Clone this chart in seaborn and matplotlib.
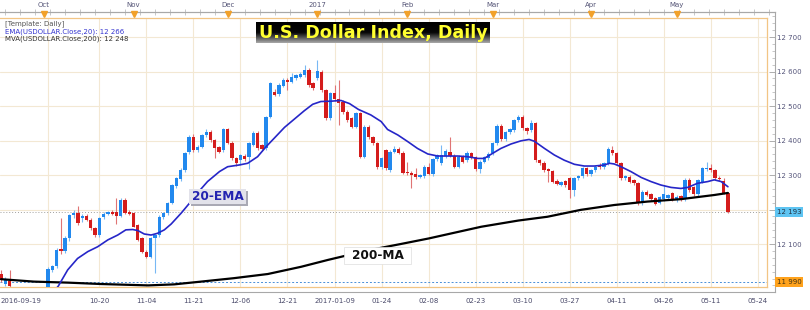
import numpy as np
import pandas as pd
import matplotlib
matplotlib.use("Agg")
import matplotlib.pyplot as plt
import matplotlib.transforms as mtrans
from matplotlib.colors import LinearSegmentedColormap
from matplotlib.patches import Rectangle
import seaborn as sns

# ---------------- data ----------------
opens = [12012, 11985, 11993, 11972, 11950, 11940, 11948, 11955, 11945, 11950,
         11960, 11962, 12025, 12036, 12085, 12079, 12116, 12183, 12189, 12175,
         12180, 12170, 12145, 12126, 12178, 12188, 12194, 12192, 12182, 12228,
         12194, 12189, 12155, 12116, 12078, 12063, 12116, 12126, 12179, 12189,
         12220, 12268, 12288, 12315, 12368, 12409, 12372, 12382, 12416, 12426,
         12401, 12380, 12372, 12432, 12394, 12348, 12343, 12356, 12351, 12387,
         12423, 12387, 12377, 12469, 12542, 12535, 12558, 12575, 12571, 12580,
         12585, 12590, 12604, 12566, 12580, 12600, 12546, 12464, 12537, 12519,
         12512, 12484, 12464, 12440, 12479, 12353, 12440, 12409, 12392, 12322,
         12372, 12315, 12368, 12374, 12365, 12310, 12307, 12303, 12295, 12297,
         12324, 12303, 12345, 12334, 12355, 12368, 12355, 12324, 12353, 12343,
         12363, 12351, 12317, 12339, 12349, 12363, 12392, 12443, 12403, 12424,
         12430, 12459, 12469, 12435, 12430, 12450, 12343, 12336, 12316, 12312,
         12284, 12272, 12282, 12290, 12257, 12290, 12296, 12319, 12303, 12314,
         12330, 12322, 12334, 12372, 12363, 12334, 12290, 12295, 12285, 12276,
         12222, 12252, 12244, 12232, 12220, 12229, 12234, 12247, 12227, 12238,
         12229, 12285, 12264, 12245, 12281, 12316, 12320, 12314, 12290, 12284,
         12247]
highs = [12025, 12003, 12025, 11974, 11960, 11955, 11962, 11965, 11958, 11968,
         11970, 12032, 12040, 12088, 12174, 12122, 12188, 12200, 12210, 12186,
         12186, 12174, 12150, 12178, 12192, 12197, 12200, 12232, 12234, 12232,
         12198, 12192, 12158, 12120, 12082, 12120, 12130, 12183, 12192, 12222,
         12275, 12294, 12320, 12368, 12415, 12418, 12388, 12420, 12432, 12430,
         12405, 12384, 12437, 12436, 12398, 12352, 12362, 12360, 12396, 12428,
         12428, 12390, 12472, 12570, 12548, 12566, 12580, 12580, 12595, 12594,
         12600, 12620, 12610, 12570, 12633, 12605, 12550, 12542, 12560, 12575,
         12516, 12488, 12468, 12484, 12484, 12445, 12445, 12414, 12396, 12352,
         12376, 12372, 12385, 12380, 12369, 12339, 12312, 12320, 12303, 12328,
         12336, 12350, 12362, 12387, 12374, 12411, 12360, 12357, 12358, 12370,
         12368, 12355, 12344, 12356, 12366, 12396, 12448, 12448, 12428, 12436,
         12462, 12474, 12474, 12440, 12458, 12455, 12346, 12340, 12320, 12315,
         12288, 12284, 12286, 12294, 12294, 12300, 12324, 12324, 12318, 12328,
         12334, 12338, 12380, 12384, 12367, 12338, 12300, 12300, 12289, 12280,
         12256, 12256, 12248, 12236, 12240, 12270, 12246, 12252, 12241, 12242,
         12290, 12290, 12268, 12289, 12324, 12338, 12333, 12318, 12296, 12290,
         12252]
lows = [11990, 11978, 11970, 11945, 11930, 11925, 11935, 11940, 11930, 11940,
        11945, 11955, 12018, 12030, 12072, 12075, 12110, 12176, 12155, 12165,
        12166, 12140, 12120, 12120, 12172, 12184, 12184, 12158, 12178, 12188,
        12183, 12148, 12108, 12074, 12058, 12058, 12015, 12120, 12172, 12185,
        12215, 12262, 12284, 12310, 12362, 12368, 12366, 12378, 12411, 12396,
        12350, 12364, 12366, 12390, 12344, 12326, 12328, 12340, 12318, 12383,
        12372, 12370, 12372, 12465, 12528, 12530, 12554, 12545, 12566, 12576,
        12580, 12585, 12556, 12546, 12575, 12541, 12459, 12460, 12514, 12445,
        12478, 12454, 12435, 12436, 12348, 12348, 12404, 12387, 12317, 12318,
        12314, 12310, 12364, 12360, 12302, 12300, 12261, 12288, 12290, 12292,
        12299, 12298, 12340, 12330, 12350, 12352, 12320, 12320, 12334, 12338,
        12346, 12312, 12305, 12334, 12344, 12358, 12388, 12398, 12398, 12420,
        12426, 12455, 12430, 12420, 12426, 12338, 12330, 12308, 12280, 12276,
        12270, 12268, 12266, 12232, 12240, 12285, 12290, 12298, 12298, 12310,
        12318, 12318, 12330, 12358, 12330, 12286, 12286, 12277, 12270, 12213,
        12214, 12238, 12224, 12212, 12215, 12225, 12230, 12225, 12222, 12225,
        12225, 12252, 12240, 12240, 12276, 12312, 12308, 12286, 12282, 12244,
        12190]
closes = [11997, 11998, 11978, 11950, 11940, 11948, 11955, 11945, 11950, 11960,
          11962, 12028, 12036, 12083, 12079, 12116, 12184, 12189, 12160, 12181,
          12170, 12145, 12126, 12174, 12188, 12194, 12188, 12180, 12228, 12191,
          12187, 12150, 12112, 12078, 12063, 12116, 12126, 12179, 12189, 12218,
          12270, 12290, 12315, 12363, 12411, 12372, 12382, 12416, 12426, 12401,
          12377, 12368, 12432, 12394, 12348, 12336, 12358, 12346, 12392, 12423,
          12377, 12374, 12469, 12566, 12532, 12561, 12575, 12571, 12585, 12590,
          12593, 12604, 12561, 12551, 12600, 12546, 12464, 12537, 12519, 12508,
          12484, 12459, 12440, 12479, 12353, 12440, 12409, 12392, 12322, 12348,
          12319, 12368, 12374, 12365, 12307, 12305, 12300, 12293, 12300, 12324,
          12303, 12345, 12358, 12358, 12370, 12355, 12324, 12353, 12339, 12365,
          12351, 12317, 12339, 12351, 12361, 12392, 12443, 12403, 12424, 12432,
          12459, 12469, 12435, 12428, 12450, 12343, 12336, 12314, 12312, 12281,
          12274, 12280, 12270, 12257, 12290, 12296, 12319, 12303, 12314, 12324,
          12322, 12334, 12374, 12363, 12334, 12290, 12297, 12281, 12276, 12218,
          12252, 12242, 12229, 12216, 12237, 12245, 12241, 12229, 12237, 12230,
          12285, 12257, 12245, 12285, 12319, 12320, 12315, 12290, 12287, 12247,
          12194]

ema_idx = [12.2, 13.4, 15.6, 17.9, 20.3, 22.6, 25.0, 27.3, 29.2, 30.8, 32.0, 33.5,
           35.1, 36.6, 38.2, 39.8, 42.1, 44.4, 46.6, 48.3, 51.1, 53.0, 55.7, 57.7,
           60.0, 62.0, 64.0, 66.3, 68.6, 70.9, 72.9, 74.8, 77.2, 79.5, 81.5, 83.6,
           86.5, 88.9, 90.4, 92.8, 95.1, 97.4, 99.8, 102.1, 104.5, 106.8, 109.1,
           111.5, 113.0, 114.6, 116.9, 119.3, 121.6, 123.5, 124.7, 127.1, 129.4,
           131.7, 134.1, 136.4, 138.8, 141.1, 142.3, 143.4, 145.0, 147.3, 149.7,
           152.0, 154.3, 156.7, 159.0, 160.6, 162.9, 165.3, 166.8, 168.4, 170.0]
ema_val = [11960, 11978, 12025, 12058, 12078, 12092, 12112, 12126, 12141, 12142,
           12139, 12129, 12126, 12131, 12141, 12158, 12189, 12223, 12257, 12281,
           12310, 12324, 12329, 12334, 12353, 12382, 12408, 12438, 12462, 12486,
           12505, 12513, 12514, 12516, 12507, 12490, 12474, 12455, 12432, 12416,
           12397, 12377, 12361, 12355, 12355, 12355, 12353, 12348, 12348, 12360,
           12377, 12390, 12399, 12403, 12398, 12377, 12358, 12343, 12331, 12326,
           12326, 12329, 12334, 12332, 12324, 12310, 12293, 12281, 12271, 12264,
           12261, 12264, 12276, 12281, 12286, 12281, 12266]

ma_idx = [0, 7.7, 15.7, 23.4, 34.4, 40.5, 46.8, 54.5, 62.4, 70.2, 76.5, 86.0,
          93.5, 100.0, 112.3, 121.0, 127.8, 135.6, 143.4, 151.2, 159.0, 166.8, 170.0]
ma_val = [11998, 11991, 11988, 11984, 11980, 11983, 11991, 12001, 12013, 12034,
          12054, 12082, 12100, 12116, 12150, 12168, 12179, 12199, 12213, 12223,
          12230, 12242, 12248]

date_pos = [0, 23, 34, 45, 56, 67, 78, 89, 100, 111, 122, 133, 144, 155, 166, 177]
date_labels = ['2016-09-19', '10-20', '11-04', '11-21', '12-06', '12-21',
               '2017-01-09', '01-24', '02-08', '02-23', '03-10', '03-27',
               '04-11', '04-26', '05-11', '05-24']
grid_pos = [11, 23, 34, 45, 56, 67, 78, 89, 100, 111, 122, 133, 144, 155, 166, 177]
month_pos = [10, 31, 53, 74, 95, 115, 138, 158]
month_labels = ['Oct', 'Nov', 'Dec', '2017', 'Feb', 'Mar', 'Apr', 'May']
price_ticks = [12100, 12200, 12300, 12400, 12500, 12600, 12700]
last_price = 12193
marker_price = 11990

# ---------------- style ----------------
sns.set_theme(style="white")
plt.rcParams['font.family'] = ['DejaVu Sans']

UP, UPW = '#2289ee', '#78b8f4'
DN, DNW = '#d41c1c', '#e07474'

W, H = 810, 310
fig = plt.figure(figsize=(W / 100, H / 100), dpi=100)
fig.patch.set_facecolor('white')

PX, X0, PY = 4.276, 1.0, 0.345


def xl(pl, pr):
    return ((pl - X0) / PX, (pr - X0) / PX)


def yl(yt, yb):
    return (12700 - (yb - 37) / PY, 12700 + (37 - yt) / PY)


# outer axes (scales)
ax2 = fig.add_axes([0, (H - 292) / H, 775 / W, 280 / H])
ax2.set_xlim(*xl(0, 775))
ax2.set_ylim(*yl(12, 292))
ax2.set_facecolor('white')
for s in ['top', 'bottom', 'right']:
    ax2.spines[s].set_color('#a8a8a8')
    ax2.spines[s].set_linewidth(0.8)
ax2.spines['left'].set_visible(False)

ax2.yaxis.tick_right()
ax2.set_yticks(price_ticks)
ax2.set_yticklabels(['' if p == 12200 else f"{p // 1000} {p % 1000:03d}" for p in price_ticks])
ax2.set_yticks(np.arange(11980, 12761, 20), minor=True)
ax2.tick_params(axis='y', which='major', direction='in', length=4, width=0.6,
                color='#a0a0a0', labelsize=5, labelcolor='#55557a', pad=1.5,
                left=False, right=True)
ax2.tick_params(axis='y', which='minor', direction='in', length=2, width=0.5,
                color='#b0b0b0', left=False, right=True)

ax2.set_xticks(date_pos)
ax2.set_xticklabels(date_labels)
ax2.get_xticklabels()[0].set_horizontalalignment('left')
ax2.set_xticks(np.arange(0, 182, 1), minor=True)
ax2.tick_params(axis='x', which='major', direction='in', length=5, width=0.6,
                color='#a0a0a0', labelsize=5, labelcolor='#4a4a6a', pad=4)
ax2.tick_params(axis='x', which='minor', direction='in', length=2.5, width=0.5,
                color='#b0b0b0')

sec = ax2.secondary_xaxis('top')
sec.set_xticks(np.arange(1, 182, 3.5))
sec.set_xticklabels([])
sec.tick_params(direction='inout', length=4, width=0.5, color='#b0b0b0')
sec.spines['top'].set_color('#a8a8a8')
sec.spines['top'].set_linewidth(0.8)

btr = mtrans.blended_transform_factory(ax2.transData, ax2.transAxes)
ax2.plot(month_pos, [1 - 1.8 / 280] * len(month_pos), ls='none', marker='v', ms=4.5,
         color='#f2a12a', transform=btr, clip_on=False, zorder=6)
for mp, ml in zip(month_pos, month_labels):
    ax2.text(mp, 1.025, ml, transform=btr, ha='center', va='center', fontsize=5,
             color='#555577')

# price markers on the right axis
rtr = mtrans.blended_transform_factory(ax2.transAxes, ax2.transData)
ax2.text(1 + 2 / 775, last_price, '12 193', transform=rtr,
         ha='left', va='center', fontsize=5, color='#223344',
         bbox=dict(boxstyle='square,pad=0.25', fc='#5ec4f2', ec='none'), clip_on=False)
ax2.text(1 + 2 / 775, marker_price, '11 990', transform=rtr,
         ha='left', va='center', fontsize=5, color='#443311',
         bbox=dict(boxstyle='square,pad=0.25', fc='#ffa21c', ec='none'), clip_on=False)

# main plotting area (orange frame)
ax = fig.add_axes([0, (H - 287) / H, 767 / W, 269 / H])
ax.set_xlim(*xl(0, 767))
ax.set_ylim(*yl(18, 287))
ax.set_facecolor('none')
for s in ['top', 'bottom', 'right']:
    ax.spines[s].set_color('#f2c585')
    ax.spines[s].set_linewidth(0.9)
ax.spines['left'].set_visible(False)

for g in grid_pos:
    ax.axvline(g, color='#f3e8d3', lw=0.8, zorder=0)
for p in price_ticks:
    ax.axhline(p, color='#f3e8d3', lw=0.8, zorder=0)
ax.axhline(last_price, color='#a0a0a0', lw=0.7, ls=(0, (1, 2)), zorder=1)
ax.axhline(marker_price, color='#4a8fd8', lw=0.7, ls=(0, (2, 2)), zorder=1)

df = pd.DataFrame({'i': np.arange(len(closes)), 'o': opens, 'h': highs,
                   'l': lows, 'c': closes})
df['up'] = df['c'] >= df['o']
for up, bc, wc in [(True, UP, UPW), (False, DN, DNW)]:
    d = df[df['up'] == up]
    ax.vlines(d['i'], d['l'], d['h'], color=wc, lw=0.8, zorder=3)
    bottom = np.minimum(d['o'], d['c'])
    height = np.maximum(np.abs(d['c'] - d['o']), 3)
    ax.bar(d['i'], height, bottom=bottom, width=0.78, color=bc, lw=0, zorder=4)

sns.lineplot(x=ma_idx, y=ma_val, ax=ax, color='black', lw=1.6, sort=False,
             estimator=None, legend=False, zorder=5)
sns.lineplot(x=ema_idx, y=ema_val, ax=ax, color='#2626c8', lw=1.2, sort=False,
             estimator=None, legend=False, zorder=6)
ax.set_xlabel('')
ax.set_ylabel('')
ax.set_xticks([])
ax.set_yticks([])


def px_rect(x0, y0, x1, y1, **kw):
    r = Rectangle((x0 / W, 1 - y1 / H), (x1 - x0) / W, (y1 - y0) / H,
                  transform=fig.transFigure, **kw)
    fig.add_artist(r)


# legend texts
fig.text(5 / W, 1 - 23.5 / H, '[Template: Daily]', fontsize=5, color='#555555', va='center')
fig.text(5 / W, 1 - 31.5 / H, 'EMA(USDOLLAR.Close,20): 12 266', fontsize=5, color='#3535d0', va='center')
fig.text(5 / W, 1 - 39.2 / H, 'MVA(USDOLLAR.Close,200): 12 248', fontsize=5, color='#333333', va='center')

# title with gradient box
tax = fig.add_axes([256 / W, 1 - 43 / H, 234 / W, 21 / H])
grad = np.linspace(0, 1, 60)[:, None]
cmap = LinearSegmentedColormap.from_list('g', [(0, '#000000'), (0.5, '#060606'), (1, '#a8a8a8')])
tax.imshow(grad, aspect='auto', cmap=cmap, extent=[0, 1, 0, 1])
tax.axis('off')
fig.text(373 / W, 1 - 38.3 / H, 'U.S. Dollar Index, Daily', ha='center', va='baseline',
         fontsize=12.6, fontweight='bold', color='#ffff30', zorder=10)

# 20-EMA label
px_rect(191, 191, 248, 206, fc='#a9a9b4', ec='none', zorder=8)
px_rect(189, 189, 246, 204, fc='#e2e2ea', ec='none', zorder=9)
fig.text(217.5 / W, 1 - 197 / H, '20-EMA', ha='center', va='center', fontsize=8.7,
         fontweight='bold', color='#2323b0', zorder=10)

# 200-MA label
px_rect(344, 247, 411, 264, fc='white', ec='#dddddd', lw=0.5, zorder=8)
fig.text(377.5 / W, 1 - 255.5 / H, '200-MA', ha='center', va='center', fontsize=8.7,
         fontweight='bold', color='#111111', zorder=10)

fig.savefig('out.png', dpi=100)
